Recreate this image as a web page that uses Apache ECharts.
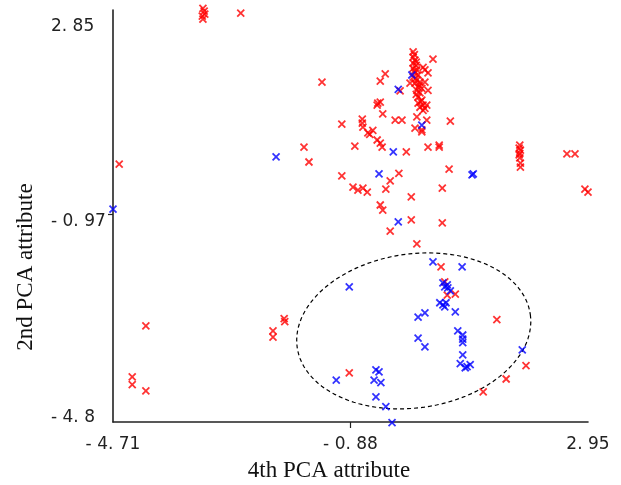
<html>
    <head>
        <meta charset="utf-8">
        <script src="https://cdn.jsdelivr.net/npm/echarts@6/dist/echarts.min.js"></script>
    </head>
    <body>
        <style>
            html, body, #main {
                width: 100%;
                height: 100%;
                margin: 0;
                background: #fff;
            }
        </style>
        <div id="main"></div>
        <script>

            // tick positions and their printed labels
            var xTickValues = [-4.71, -0.88, 2.95];
            var xTickLabels = ['- 4. 71', '- 0. 88', '2. 95'];
            var yTickValues = [-4.8, -0.97, 2.85];
            var yTickLabels = ['- 4. 8', '- 0. 97', '2. 85'];

            // [4th PCA, 2nd PCA]
            var redPoints = [
                [-3.26, 3.06], [-3.24, 3.01], [-3.23, 2.95], [-3.27, 2.91], [-3.26, 2.85], [-2.65, 2.97],
                [-4.61, 0.02], [-1.63, 0.35], [-1.55, 0.06], [-1.34, 1.62], [0.45, 2.07], [-0.32, 1.78],
                [-0.40, 1.64], [-0.08, 1.45], [-0.44, 1.21], [-0.40, 1.23], [-0.45, 1.17], [-0.36, 1.00],
                [-0.16, 0.88], [-0.05, 0.88], [0.19, 0.94], [0.35, 0.88], [0.73, 0.86], [0.16, 0.72],
                [0.27, 0.65], [0.27, 0.69], [-1.02, 0.80], [-0.69, 0.90], [-0.69, 0.82], [-0.68, 0.74],
                [-0.52, 0.68], [-0.60, 0.63], [-0.57, 0.60], [-0.45, 0.49], [-0.40, 0.43], [-0.37, 0.35],
                [-0.81, 0.37], [0.02, 0.26], [0.37, 0.35], [0.55, 0.39], [0.55, 0.35], [-1.02, -0.21],
                [-0.10, -0.16], [-0.24, -0.31], [-0.84, -0.43], [-0.76, -0.49], [-0.68, -0.45], [-0.61, -0.53],
                [-0.31, -0.47], [0.60, -0.45], [0.71, -0.08], [0.10, -0.62], [-0.40, -0.78], [-0.36, -0.88],
                [0.10, -1.07], [-0.24, -1.29], [0.60, -1.13],
                [1.85, 0.39], [1.84, 0.33], [1.86, 0.29], [1.85, 0.23], [1.84, 0.20], [1.85, 0.14],
                [1.86, 0.04], [1.86, -0.04], [2.61, 0.22], [2.74, 0.22], [2.90, -0.47], [2.95, -0.53],
                [0.13, 2.21], [0.13, 2.11], [0.16, 2.05], [0.13, 1.99], [0.18, 1.95], [0.13, 1.89],
                [0.19, 1.86], [0.16, 1.80], [0.21, 1.76], [0.13, 1.72], [0.19, 1.66], [0.24, 1.62],
                [0.16, 1.60], [0.21, 1.52], [0.27, 1.50], [0.19, 1.46], [0.24, 1.41], [0.21, 1.33],
                [0.27, 1.27], [0.21, 1.21], [0.29, 1.17], [0.24, 1.13], [0.32, 1.11], [0.29, 1.91],
                [0.32, 1.86], [0.37, 1.80], [0.08, 1.60], [0.37, 1.46], [0.32, 1.62], [0.35, 1.17],
                [0.29, 1.07], [0.15, 2.16], [0.18, 2.01], [0.15, 1.84], [0.17, 1.69], [0.23, 1.56],
                [0.18, 1.38], [0.25, 1.24],
                [0.19, -1.54], [0.58, -1.99], [0.64, -2.28], [0.68, -2.54], [0.81, -2.52], [1.48, -3.02],
                [1.95, -3.92], [1.63, -4.18], [1.26, -4.43], [-0.90, -4.06], [-4.18, -3.14], [-4.40, -4.14],
                [-4.40, -4.29], [-4.18, -4.41], [-2.13, -3.24], [-2.13, -3.36], [-1.95, -3.00], [-1.94, -3.06]
            ];

            var bluePoints = [
                [-4.71, -0.86], [-2.08, 0.16], [-0.11, 1.48], [0.11, 1.76], [0.27, 0.78], [-0.19, 0.26],
                [-0.42, -0.17], [-0.11, -1.11], [1.10, -0.17], [1.08, -0.19], [0.45, -1.89], [0.92, -1.99],
                [0.61, -2.30], [0.68, -2.34], [0.64, -2.38], [0.69, -2.40], [0.73, -2.46], [0.56, -2.69],
                [0.61, -2.73], [0.66, -2.69], [0.64, -2.77], [0.81, -2.87], [0.21, -2.97], [0.32, -2.89],
                [0.85, -3.24], [0.93, -3.32], [0.93, -3.40], [0.93, -3.47], [0.21, -3.38], [0.32, -3.55],
                [0.93, -3.71], [1.89, -3.61], [0.89, -3.88], [1.00, -3.94], [1.05, -3.90], [0.97, -3.96],
                [-0.90, -2.38], [-1.11, -4.20], [-0.47, -4.00], [-0.42, -4.04], [-0.50, -4.20], [-0.39, -4.25],
                [-0.47, -4.53], [-0.31, -4.72], [-0.21, -5.03]
            ];

            // dashed ellipse around the blue cluster: centre and two conjugate semi-axes
            var ellipseCenter = [0.14, -3.24];
            var ellipseU = [1.88, 0.32];
            var ellipseV = [0.17, -1.49];

            var ellipse = [];
            for (var i = 0; i <= 120; i++) {
                var t = i / 120 * Math.PI * 2;
                ellipse.push([
                    ellipseCenter[0] + ellipseU[0] * Math.cos(t) + ellipseV[0] * Math.sin(t),
                    ellipseCenter[1] + ellipseU[1] * Math.cos(t) + ellipseV[1] * Math.sin(t)
                ]);
            }

            function pickLabel(values, labels) {
                return function (v) {
                    for (var k = 0; k < values.length; k++) {
                        if (Math.abs(values[k] - v) < 1e-6) {
                            return labels[k];
                        }
                    }
                    return '';
                };
            }

            var cross = 'path://M0,0L10,10M10,0L0,10';
            var axisColor = '#222';

            var chart = echarts.init(document.getElementById('main'));

            chart.setOption({
                animation: false,
                grid: {
                    left: 113,
                    right: 33,
                    top: 10,
                    bottom: 63,
                    outerBoundsMode: 'none'
                },
                xAxis: {
                    type: 'value',
                    min: -4.71,
                    max: 2.95,
                    name: '4th PCA attribute',
                    nameLocation: 'middle',
                    nameGap: 37,
                    nameTextStyle: {
                        fontFamily: 'Liberation Serif',
                        fontSize: 23,
                        color: '#111',
                        padding: [0, 43, 0, 0]
                    },
                    axisLine: { onZero: false, lineStyle: { color: axisColor, width: 1.6 } },
                    axisTick: {
                        show: true,
                        customValues: [-0.88],
                        length: 6,
                        lineStyle: { color: axisColor, width: 1.2 }
                    },
                    axisLabel: {
                        customValues: xTickValues,
                        formatter: pickLabel(xTickValues, xTickLabels),
                        fontFamily: 'DejaVu Sans',
                        fontSize: 17,
                        color: '#222',
                        margin: 14,
                        hideOverlap: false
                    },
                    splitLine: { show: false }
                },
                yAxis: {
                    type: 'value',
                    min: -5.02,
                    max: 3.03,
                    name: '2nd PCA attribute',
                    nameLocation: 'middle',
                    nameRotate: 90,
                    nameGap: 76,
                    nameTextStyle: {
                        fontFamily: 'Liberation Serif',
                        fontSize: 23,
                        color: '#111',
                        padding: [0, 102, 0, 0]
                    },
                    axisLine: { onZero: false, lineStyle: { color: axisColor, width: 1.6 } },
                    axisTick: {
                        show: true,
                        customValues: [-0.97],
                        length: 5,
                        lineStyle: { color: axisColor, width: 1.2 }
                    },
                    axisLabel: {
                        customValues: yTickValues,
                        formatter: pickLabel(yTickValues, yTickLabels),
                        fontFamily: 'DejaVu Sans',
                        fontSize: 17,
                        color: '#222',
                        align: 'left',
                        verticalAlign: 'top',
                        lineHeight: 14,
                        margin: 62,
                        hideOverlap: false
                    },
                    splitLine: { show: false }
                },
                series: [{
                    type: 'line',
                    data: ellipse,
                    showSymbol: false,
                    silent: true,
                    clip: false,
                    lineStyle: { color: '#000', width: 1.2, type: [4, 3] },
                    z: 1
                }, {
                    type: 'scatter',
                    data: redPoints,
                    symbol: cross,
                    symbolSize: 7,
                    clip: false,
                    itemStyle: { color: 'red', borderColor: 'red', borderWidth: 1.8 },
                    z: 2
                }, {
                    type: 'scatter',
                    data: bluePoints,
                    symbol: cross,
                    symbolSize: 7,
                    clip: false,
                    itemStyle: { color: 'blue', borderColor: 'blue', borderWidth: 1.8 },
                    z: 3
                }]
            });

        </script>
    </body>
</html>
